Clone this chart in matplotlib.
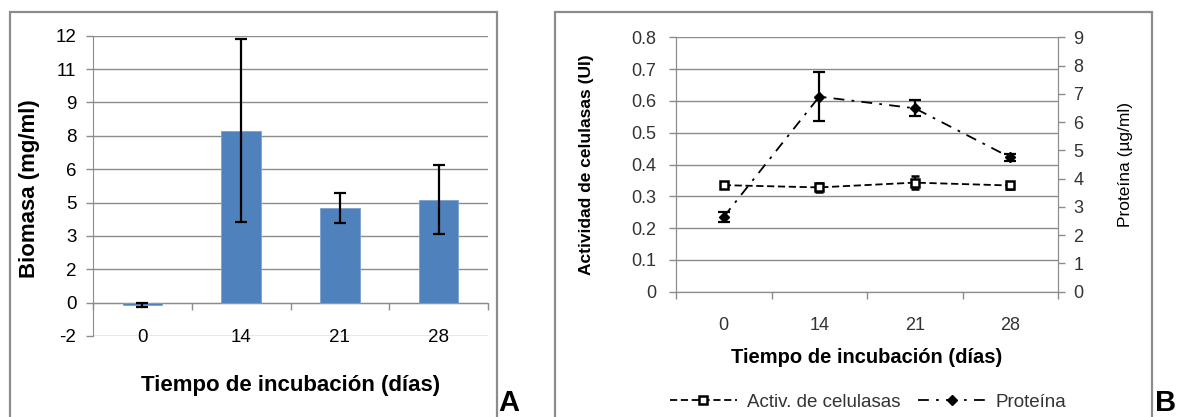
import matplotlib
matplotlib.use("Agg")
import matplotlib.pyplot as plt
from matplotlib.patches import Rectangle
from matplotlib.lines import Line2D

plt.rcParams['font.family'] = ['Liberation Sans', 'DejaVu Sans']

# data
dias = ['0', '14', '21', '28']
biomasa = [-0.1, 7.73, 4.27, 4.62]
biomasa_err = [0.1, 4.1, 0.68, 1.55]
biomasa_ticks = [-1.5, 0, 1.5, 3, 4.5, 6, 7.5, 9, 10.5, 12]
biomasa_ticklabels = ['-2', '0', '2', '3', '5', '6', '8', '9', '11', '12']

celulasas = [0.335, 0.328, 0.343, 0.334]
celulasas_err = [0.005, 0.014, 0.02, 0.01]
proteina = [2.65, 6.9, 6.49, 4.75]
proteina_err = [0.17, 0.86, 0.29, 0.12]

W, H = 1177, 417
GRID = '#8c8c8c'
TXT = '#333333'


def px_axes(fig, left, top, right, bottom):
    return fig.add_axes([left / W, (H - bottom) / H, (right - left) / W, (bottom - top) / H])


fig = plt.figure(figsize=(W / 100, H / 100), dpi=100)

# panel frames
fig.patches.append(Rectangle((10 / W, -0.05), 487 / W, (H - 12) / H + 0.05,
                             transform=fig.transFigure, fill=False, ec=GRID, lw=1.6))
fig.patches.append(Rectangle((555 / W, -0.05), 597 / W, (H - 12) / H + 0.05,
                             transform=fig.transFigure, fill=False, ec=GRID, lw=1.6))

# ---------- panel A ----------
x = list(range(len(dias)))
ax = px_axes(fig, 93, 35.7, 488, 336)
ax.bar(x, biomasa, width=0.4, color='#4f81bd', edgecolor='#7ea1cf', lw=0.6, zorder=3)
ax.errorbar(x, biomasa, yerr=biomasa_err, fmt='none', ecolor='black',
            elinewidth=1.6, capsize=4, capthick=1.6, zorder=4)
ax.set_xlim(-0.5, 3.5)
ax.set_ylim(-1.5, 12)
ax.set_yticks(biomasa_ticks)
ax.set_yticklabels(biomasa_ticklabels)
ax.grid(axis='y', color=GRID, lw=1, zorder=0)
for s in ['top', 'right']:
    ax.spines[s].set_visible(False)
ax.spines['left'].set_color(GRID)
ax.spines['bottom'].set_color(GRID)
ax.spines['bottom'].set_position(('data', 0))
ax.set_xticks(x)
ax.set_xticklabels(dias)
ax.set_xticks([-0.5, 0.5, 1.5, 2.5, 3.5], minor=True)
ax.tick_params(axis='x', which='major', length=0, pad=19, labelsize=13.5)
ax.tick_params(axis='x', which='minor', length=5, color=GRID, width=1)
ax.tick_params(axis='y', length=5, color=GRID, width=1, pad=7, labelsize=13.5)
ax.set_ylabel('Biomasa (mg/ml)', fontsize=16, fontweight='bold')
ax.yaxis.set_label_coords(-0.135, 0.49)
ax.set_xlabel('Tiempo de incubación (días)', fontsize=16, fontweight='bold')
ax.xaxis.set_label_coords(0.5, -0.13)

# ---------- panel B ----------
bx = px_axes(fig, 676, 37.3, 1058, 291.7)
bx2 = bx.twinx()
bx.errorbar(x, celulasas, yerr=celulasas_err, color='black', ls=(0, (4, 2)),
            lw=1.3, marker='s', ms=5.5, mfc='white', mec='black', mew=1.8,
            elinewidth=1.3, capsize=3, capthick=1.3, zorder=4)
bx2.errorbar(x, proteina, yerr=proteina_err, color='black', ls=(0, (6, 4, 1.5, 4)),
             lw=1.3, marker='D', ms=5, mfc='black', mec='black',
             elinewidth=1.6, capsize=4, capthick=1.6, zorder=4)
bx.set_xlim(-0.5, 3.5)
bx.set_ylim(0, 0.8)
bx2.set_ylim(0, 9)
bx.set_yticks([i / 10 for i in range(9)])
bx.set_yticklabels(['0'] + ['%.1f' % (i / 10) for i in range(1, 9)])
bx2.set_yticks(range(10))
bx.grid(axis='y', color=GRID, lw=1, zorder=0)
for a in (bx, bx2):
    a.spines['top'].set_visible(False)
    for s in ['left', 'right', 'bottom']:
        a.spines[s].set_color(GRID)
bx.set_xticks(x)
bx.set_xticklabels(dias)
bx.set_xticks([-0.5, 0.5, 1.5, 2.5, 3.5], minor=True)
bx.tick_params(axis='x', which='major', length=0, pad=18, labelsize=13, labelcolor=TXT)
bx.tick_params(axis='x', which='minor', length=5, color=GRID, width=1)
bx.tick_params(axis='y', length=5, color=GRID, width=1, pad=9, labelsize=13, labelcolor=TXT)
bx2.tick_params(axis='y', length=5, color=GRID, width=1, pad=6, labelsize=13, labelcolor=TXT)
bx.set_ylabel('Actividad de celulasas (UI)', fontsize=12.5, fontweight='bold')
bx.yaxis.set_label_coords(-0.215, 0.5)
bx2.set_ylabel('Proteína (µg/ml)', fontsize=12.5, rotation=90)
bx2.yaxis.set_label_coords(1.157, 0.5)
bx.set_xlabel('Tiempo de incubación (días)', fontsize=14.5, fontweight='bold')
bx.xaxis.set_label_coords(0.5, -0.222)

h1 = Line2D([], [], color='black', ls=(0, (4, 2)), lw=1.3, marker='s', ms=5.5,
            mfc='white', mec='black', mew=1.8)
h2 = Line2D([], [], color='black', ls=(0, (6, 4, 1.5, 4)), lw=1.3, marker='D', ms=5,
            mfc='black', mec='black')
fig.legend([h1, h2], ['Activ. de celulasas', 'Proteína'], loc='center',
           bbox_to_anchor=(868 / W, 15 / H), ncol=2, frameon=False, fontsize=13.5,
           handlelength=3.6, handletextpad=0.53, columnspacing=0.95,
           labelcolor=TXT, borderaxespad=0, borderpad=0)

fig.text(498 / W, 0.0, 'A', fontsize=21, fontweight='bold', ha='left', va='bottom')
fig.text(1155 / W, 0.0, 'B', fontsize=21, fontweight='bold', ha='left', va='bottom')

fig.savefig('out.png', dpi=100)
